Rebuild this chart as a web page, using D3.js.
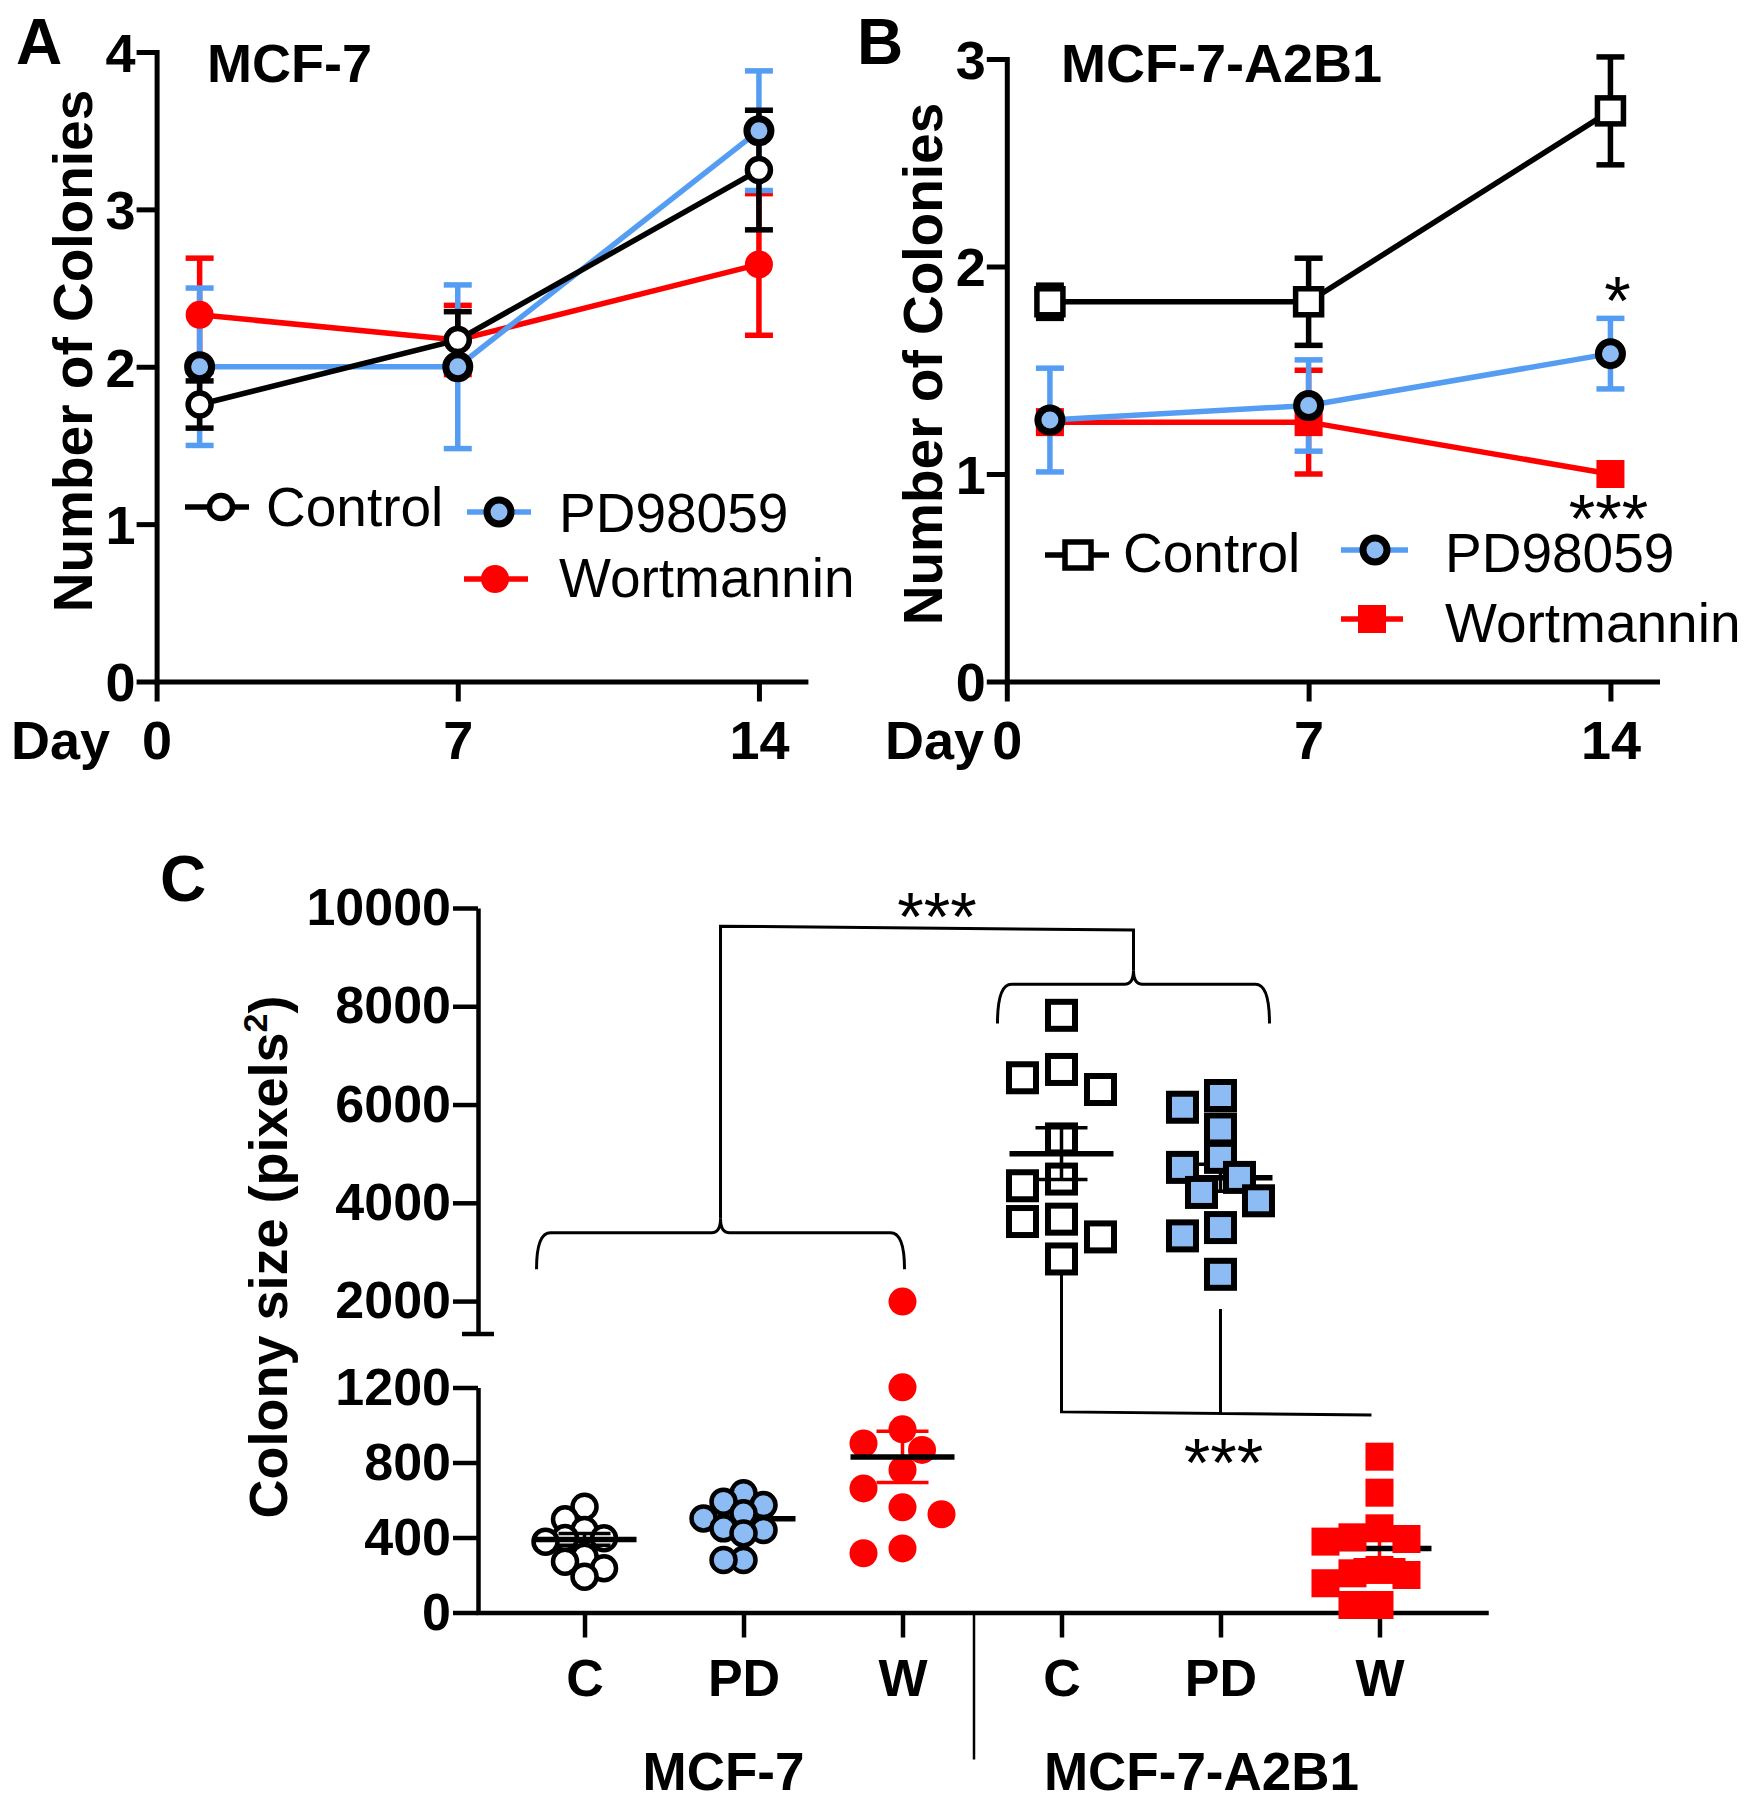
<!DOCTYPE html>
<html>
<head>
<meta charset="utf-8">
<script src="https://cdn.jsdelivr.net/npm/d3@7"></script>
<style>
  html, body { margin: 0; padding: 0; background: #fff; }
  svg { display: block; }
</style>
</head>
<body>
<svg id="chart" width="1754" height="1800"></svg>
<script>
// ================= DATA =================
// Panels A and B (time course)
const dayValues = [1, 7, 14];
const dayTicks = [0, 7, 14];
const seriesNames = ["Control", "PD98059", "Wortmannin"];

const aYTicks = [0, 1, 2, 3, 4];
const aControl = [1.76, 2.17, 3.25];
const aControlSem = [0.15, 0.18, 0.38];
const aPD = [2.0, 2.0, 3.5];
const aPDSem = [0.5, 0.52, 0.38];
const aWort = [2.33, 2.17, 2.65];
const aWortSem = [0.36, 0.22, 0.45];

const bYTicks = [0, 1, 2, 3];
const bControl = [1.83, 1.83, 2.75];
const bControlSem = [0.08, 0.21, 0.26];
const bPD = [1.26, 1.33, 1.58];
const bPDSem = [0.25, 0.22, 0.17];
const bWort = [1.25, 1.25, 1.0];
const bWortSem = [0.03, 0.25, 0.0];

// Panel C (colony size)
const cTickLabels = ["C", "PD", "W", "C", "PD", "W"];
const cGroupLabels = ["MCF-7", "MCF-7-A2B1"];
const cLowTicks = [0, 400, 800, 1200];
const cHighTicks = [2000, 4000, 6000, 8000, 10000];
const mcf7Control = [564, 497, 440, 397, 396, 378, 298, 271, 236, 191];
const mcf7PD = [636, 591, 573, 529, 502, 449, 440, 422, 280, 280];
const mcf7Wort = [1990, 1201, 977, 902, 867, 760, 662, 561, 524, 342, 316];
const a2b1Control = [7816, 6714, 6545, 6306, 5300, 4483, 4347, 3667, 3619, 3306, 2857];
const a2b1PD = [6184, 5945, 5503, 4925, 4721, 4517, 4211, 4041, 3496, 3327, 2545];
const a2b1Wort = [831, 639, 449, 401, 392, 378, 227, 209, 200, 156, 40, 40];
const cMeans = [390, 500, 830, 5000, 4510, 342];
const cSems = [31, 35, 137, 526, 275, 60];

// ================= STYLE =================
const FONT = '"Liberation Sans", Arial, Helvetica, sans-serif';
const RED = "#ff0000";
const BLUE = "#559df2";
const LIGHT = "#8cbcf3";
const BLACK = "#000000";
const LINE_W = 5.5;

const svg = d3.select("#chart");
svg.append("rect").attr("width", 1754).attr("height", 1800).attr("fill", "#fff");

function styleAxis(a, fontSize, sw) {
  a.select(".domain").attr("stroke", BLACK).attr("stroke-width", sw).attr("stroke-linecap", "square");
  a.selectAll(".tick line").attr("stroke", BLACK).attr("stroke-width", sw);
  a.selectAll(".tick text").attr("fill", BLACK)
    .style("font-family", FONT).style("font-size", fontSize + "px").style("font-weight", "bold");
}

function text(g, x, y, str, size, weight, anchor) {
  return g.append("text").attr("x", x).attr("y", y).text(str)
    .style("font-family", FONT).style("font-size", size + "px")
    .style("font-weight", weight || "normal").attr("text-anchor", anchor || "start").attr("fill", BLACK);
}

function drawMarker(g, type, cx, cy) {
  if (type === "openCircle") {
    g.append("circle").attr("cx", cx).attr("cy", cy).attr("r", 11.5)
      .attr("fill", "#fff").attr("stroke", BLACK).attr("stroke-width", 5.5);
  } else if (type === "pdCircle") {
    g.append("circle").attr("cx", cx).attr("cy", cy).attr("r", 12)
      .attr("fill", LIGHT).attr("stroke", BLACK).attr("stroke-width", 7);
  } else if (type === "redCircle") {
    g.append("circle").attr("cx", cx).attr("cy", cy).attr("r", 14).attr("fill", RED);
  } else if (type === "openSquare") {
    g.append("rect").attr("x", cx - 13).attr("y", cy - 13).attr("width", 26).attr("height", 26)
      .attr("fill", "#fff").attr("stroke", BLACK).attr("stroke-width", 5.5);
  } else if (type === "redSquare") {
    g.append("rect").attr("x", cx - 14).attr("y", cy - 14).attr("width", 28).attr("height", 28).attr("fill", RED);
  }
}

// ================= PANELS A & B =================
function linePanel(p) {
  const g = svg.append("g");
  const x = d3.scaleLinear().domain([0, 15.08]).range([p.left, p.right]);
  const y = d3.scaleLinear().domain([0, p.yMax]).range([p.bottom, p.top]);

  const ya = g.append("g").attr("transform", `translate(${p.left},0)`)
    .call(d3.axisLeft(y).tickValues(p.yTicks).tickSize(20).tickSizeOuter(0).tickPadding(1).tickFormat(d3.format("d")));
  const xa = g.append("g").attr("transform", `translate(0,${p.bottom})`)
    .call(d3.axisBottom(x).tickValues(dayTicks).tickSize(20).tickSizeOuter(0).tickPadding(19));
  styleAxis(ya, 54, 5);
  styleAxis(xa, 54, 5);
  ya.selectAll(".tick text").attr("dy", "0.36em");

  text(g, p.dayX, p.bottom + 77, "Day", 54, "bold", "start");
  text(g, p.letterX, 64, p.letter, 64, "bold", "start");
  text(g, p.titleX, 82, p.title, 54, "bold", "start");
  g.append("text").attr("transform", `translate(${p.ylabX},${p.ylabY}) rotate(-90)`)
    .attr("text-anchor", "middle").style("font-family", FONT).style("font-size", "55px")
    .style("font-weight", "bold").text("Number of Colonies");

  const series = p.series.map(s => ({
    ...s,
    pts: dayValues.map((d, i) => ({
      x: x(d), y: y(s.values[i]),
      lo: y(s.values[i] - s.sem[i]), hi: y(s.values[i] + s.sem[i])
    }))
  }));
  // error bars
  series.forEach(s => {
    s.pts.forEach(pt => {
      if (pt.lo - pt.hi < 1) return;
      g.append("line").attr("x1", pt.x).attr("x2", pt.x).attr("y1", pt.lo).attr("y2", pt.hi)
        .attr("stroke", s.color).attr("stroke-width", LINE_W);
      [pt.lo, pt.hi].forEach(yy => g.append("line").attr("x1", pt.x - 14).attr("x2", pt.x + 14)
        .attr("y1", yy).attr("y2", yy).attr("stroke", s.color).attr("stroke-width", LINE_W));
    });
  });
  // lines
  series.forEach(s => {
    g.append("path").datum(s.pts).attr("d", d3.line().x(d => d.x).y(d => d.y))
      .attr("fill", "none").attr("stroke", s.color).attr("stroke-width", LINE_W);
  });
  // markers
  series.forEach(s => s.pts.forEach(pt => drawMarker(g, s.marker, pt.x, pt.y)));

  // legend
  p.legend.forEach(l => {
    const s = p.series.find(d => d.name === l.name);
    g.append("line").attr("x1", l.x1).attr("x2", l.x2).attr("y1", l.y).attr("y2", l.y)
      .attr("stroke", s.color).attr("stroke-width", LINE_W);
    drawMarker(g, s.marker, l.mx, l.y);
    text(g, l.tx, l.ty, l.name, 55, "normal", "start");
  });

  if (p.annot) p.annot(g, x, y);
}

linePanel({
  left: 156.6, right: 805.4, top: 52, bottom: 681.5, yMax: 4, yTicks: aYTicks,
  dayX: 11, letter: "A", letterX: 16, title: "MCF-7", titleX: 207, ylabX: 92, ylabY: 351,
  series: [
    { name: seriesNames[2], values: aWort, sem: aWortSem, color: RED, marker: "redCircle" },
    { name: seriesNames[1], values: aPD, sem: aPDSem, color: BLUE, marker: "pdCircle" },
    { name: seriesNames[0], values: aControl, sem: aControlSem, color: BLACK, marker: "openCircle" }
  ],
  legend: [
    { name: seriesNames[0], x1: 185, x2: 249, y: 507, mx: 221, tx: 266, ty: 526 },
    { name: seriesNames[1], x1: 467, x2: 531, y: 512, mx: 499, tx: 559, ty: 532 },
    { name: seriesNames[2], x1: 464, x2: 528, y: 579, mx: 495, tx: 559, ty: 597 }
  ]
});

linePanel({
  left: 1006.8, right: 1657, top: 59, bottom: 681.5, yMax: 3, yTicks: bYTicks,
  dayX: 885, letter: "B", letterX: 857, title: "MCF-7-A2B1", titleX: 1061, ylabX: 942, ylabY: 364,
  series: [
    { name: seriesNames[2], values: bWort, sem: bWortSem, color: RED, marker: "redSquare" },
    { name: seriesNames[1], values: bPD, sem: bPDSem, color: BLUE, marker: "pdCircle" },
    { name: seriesNames[0], values: bControl, sem: bControlSem, color: BLACK, marker: "openSquare" }
  ],
  legend: [
    { name: seriesNames[0], x1: 1045, x2: 1109, y: 555, mx: 1078, tx: 1123, ty: 572 },
    { name: seriesNames[1], x1: 1341, x2: 1408, y: 550, mx: 1375, tx: 1445, ty: 572 },
    { name: seriesNames[2], x1: 1341, x2: 1403, y: 619, mx: 1372, tx: 1445, ty: 642 }
  ],
  annot: (g, x, y) => {
    text(g, x(14) + 7, y(bPD[2] + bPDSem[2]) + 6, "*", 68, "normal", "middle");
    text(g, x(14) - 2, y(bWort[2]) + 68, "***", 68, "normal", "middle");
  }
});

// ================= PANEL C =================
(function panelC() {
  const g = svg.append("g");
  const groups = [mcf7Control, mcf7PD, mcf7Wort, a2b1Control, a2b1PD, a2b1Wort];
  const x = d3.scalePoint().domain(d3.range(6)).range([478, 1486]).padding(0.67);
  const yLo = d3.scaleLinear().domain([0, 1200]).range([1612.5, 1387.5]);
  const yHi = d3.scaleLinear().domain([1330, 10000]).range([1334, 908]);
  const yv = v => (v <= 1250 ? yLo(v) : yHi(v));
  const axisX = 478;

  const styles = [
    { shape: "circle", fill: "#fff", stroke: BLACK, sw: 4.5, r: 12, bar: BLACK, onTop: true, step: 19.5, minD: 17 },
    { shape: "circle", fill: LIGHT, stroke: BLACK, sw: 4.5, r: 12, bar: BLACK, onTop: false, step: 20, minD: 19 },
    { shape: "circle", fill: RED, stroke: "none", sw: 0, r: 14, bar: RED, onTop: true, step: 19.5, minD: 27 },
    { shape: "square", fill: "#fff", stroke: BLACK, sw: 6, r: 13.5, bar: BLACK, onTop: true, step: 19.5, minD: 28 },
    { shape: "square", fill: LIGHT, stroke: BLACK, sw: 6, r: 13.5, bar: BLACK, onTop: false, step: 19, minD: 25 },
    { shape: "square", fill: RED, stroke: "none", sw: 0, r: 14, bar: RED, onTop: false, step: 13.5, minD: 24 }
  ];

  // axes
  const lo = g.append("g").attr("transform", `translate(${axisX},0)`)
    .call(d3.axisLeft(yLo).tickValues(cLowTicks).tickSize(25).tickSizeOuter(0).tickPadding(2).tickFormat(d3.format("d")));
  const hi = g.append("g").attr("transform", `translate(${axisX},0)`)
    .call(d3.axisLeft(yHi).tickValues(cHighTicks).tickSize(25).tickSizeOuter(0).tickPadding(2).tickFormat(d3.format("d")));
  styleAxis(lo, 52, 4.5);
  styleAxis(hi, 52, 4.5);
  lo.select(".domain").attr("stroke-linecap", "butt");
  hi.select(".domain").attr("stroke-linecap", "butt");
  g.append("line").attr("x1", axisX - 16).attr("x2", axisX + 16).attr("y1", yHi(1330)).attr("y2", yHi(1330))
    .attr("stroke", BLACK).attr("stroke-width", 4.5);

  const xa = g.append("g").attr("transform", `translate(0,${yLo(0)})`)
    .call(d3.axisBottom(x).tickFormat(i => cTickLabels[i]).tickSize(25).tickSizeOuter(0).tickPadding(22));
  styleAxis(xa, 52, 4.5);

  // group separator and labels
  const sepX = (x(2) + x(3)) / 2 - 8;
  g.append("line").attr("x1", sepX).attr("x2", sepX).attr("y1", yLo(0)).attr("y2", yLo(0) + 147)
    .attr("stroke", BLACK).attr("stroke-width", 2.5);
  text(g, (x(0) + x(2)) / 2 - 20, 1790, cGroupLabels[0], 53, "bold", "middle");
  text(g, (x(3) + x(5)) / 2 - 19, 1790, cGroupLabels[1], 53, "bold", "middle");

  // letter + y label
  text(g, 160, 901, "C", 64, "bold", "start");
  const yl = g.append("text").attr("transform", `translate(287,1257) rotate(-90)`)
    .attr("text-anchor", "middle").style("font-family", FONT).style("font-size", "54px")
    .style("font-weight", "bold");
  yl.append("tspan").text("Colony size (pixels");
  yl.append("tspan").attr("dy", -20).style("font-size", "34px").text("2");
  yl.append("tspan").attr("dy", 20).text(")");

  // brackets
  const br = { fill: "none", stroke: BLACK, "stroke-width": 3 };
  function brace(xl, xr, yLine, yEnd, tip) {
    const m = (xl + xr) / 2;
    return `M${xl},${yEnd} Q${xl},${yLine} ${xl + 14},${yLine} L${m - 9},${yLine} Q${m},${yLine} ${m},${yLine - tip}` +
      ` Q${m},${yLine} ${m + 9},${yLine} L${xr - 14},${yLine} Q${xr},${yLine} ${xr},${yEnd}`;
  }
  const l1 = x(0) - 48, r1 = x(2) + 2, m1 = (l1 + r1) / 2;
  const l2 = x(3) - 64, r2 = x(4) + 49, m2 = (l2 + r2) / 2;
  const yB1 = yHi(3390), yB2 = yHi(8450);
  const p1 = g.append("path").attr("d", brace(l1, r1, yB1, yHi(2650), 14));
  const p2 = g.append("path").attr("d", brace(l2, r2, yB2, yHi(7650), 14));
  const p3 = g.append("path").attr("d", `M${m1},${yB1 - 14} L${m1},${yHi(9630)} L${m2},${yHi(9550)} L${m2},${yB2 - 14}`);
  const p4 = g.append("path").attr("d",
    `M${x(3)},${yHi(2650)} L${x(3)},${yLo(1070)} L${x(5) - 8},${yLo(1053)} M${x(4)},${yHi(1840)} L${x(4)},${yLo(1068)}`);
  [p1, p2, p3, p4].forEach(p => Object.entries(br).forEach(([k, v]) => p.attr(k, v)));
  text(g, (m1 + m2) / 2 + 10, 940, "***", 68, "normal", "middle");
  text(g, x(4) + 3, 1486, "***", 68, "normal", "middle");

  // beeswarm placement (greedy, sorted by screen y)
  function swarm(vals, cx, step, minD) {
    const pts = vals.map(v => ({ v, y: yv(v) })).sort((a, b) => a.y - b.y);
    const placed = [];
    pts.forEach(p => {
      for (let k = 0; k < 30; k++) {
        const off = k === 0 ? 0 : (k % 2 ? -1 : 1) * Math.ceil(k / 2) * step;
        if (placed.every(q => Math.hypot(q.x - (cx + off), q.y - p.y) >= minD)) { p.x = cx + off; break; }
      }
      placed.push(p);
    });
    return placed;
  }

  function drawBars(i) {
    const cx = x(i), st = styles[i];
    const m = cMeans[i], s = cSems[i];
    g.append("line").attr("x1", cx).attr("x2", cx).attr("y1", yv(m - s)).attr("y2", yv(m + s))
      .attr("stroke", st.bar).attr("stroke-width", 3.5);
    [m - s, m + s].forEach(v => g.append("line").attr("x1", cx - 26).attr("x2", cx + 26)
      .attr("y1", yv(v)).attr("y2", yv(v)).attr("stroke", st.bar).attr("stroke-width", 3.5));
    g.append("line").attr("x1", cx - 52).attr("x2", cx + 52).attr("y1", yv(m)).attr("y2", yv(m))
      .attr("stroke", BLACK).attr("stroke-width", 5.5);
  }

  groups.forEach((vals, i) => {
    const st = styles[i];
    if (!st.onTop) drawBars(i);
    const pts = swarm(vals, x(i), st.step, st.minD);
    pts.forEach(p => {
      if (st.shape === "circle") {
        g.append("circle").attr("cx", p.x).attr("cy", p.y).attr("r", st.r)
          .attr("fill", st.fill).attr("stroke", st.stroke).attr("stroke-width", st.sw);
      } else {
        g.append("rect").attr("x", p.x - st.r).attr("y", p.y - st.r)
          .attr("width", 2 * st.r).attr("height", 2 * st.r)
          .attr("fill", st.fill).attr("stroke", st.stroke).attr("stroke-width", st.sw);
      }
    });
    if (st.onTop) drawBars(i);
  });
})();
</script>
</body>
</html>
